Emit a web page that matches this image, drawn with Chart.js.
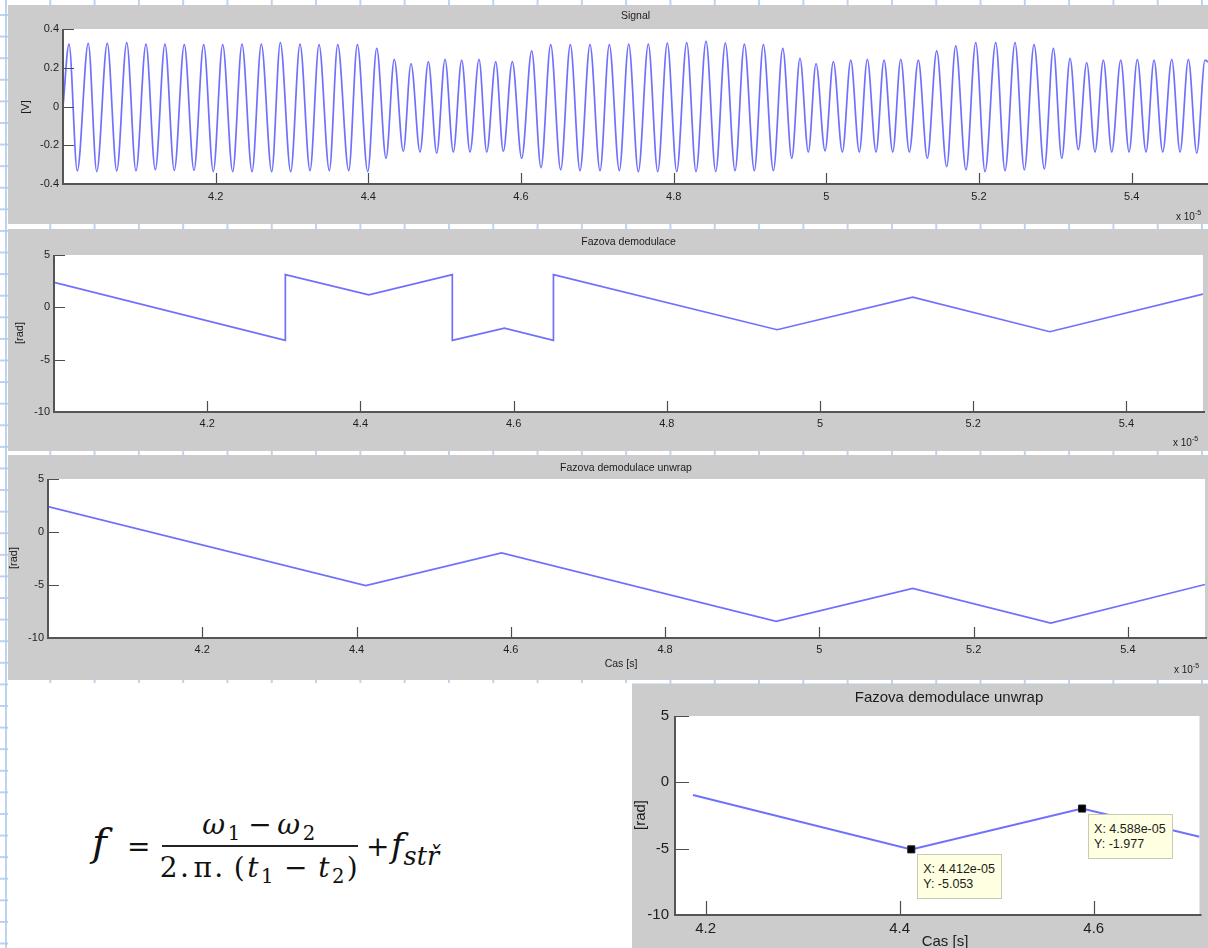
<!DOCTYPE html>
<html><head><meta charset="utf-8">
<script src="https://cdn.jsdelivr.net/npm/chart.js@4.4.1/dist/chart.umd.min.js"></script>
<style>
html,body{margin:0;padding:0;}
body{width:1208px;height:948px;position:relative;overflow:hidden;background-color:#fff;
 background-image:linear-gradient(to right, rgba(170,200,236,0.8) 1.5px, transparent 1.5px),
                  linear-gradient(to bottom, rgba(170,200,236,0.8) 1.5px, transparent 1.5px);
 background-size:44.3px 21.6px;background-position:5px 14px;}
canvas{position:absolute;}
.t{position:absolute;font-family:"Liberation Sans",Arial,sans-serif;color:#1c1c1c;white-space:nowrap;transform:translate(-50%,-50%);line-height:1;}
.r{transform:translate(-50%,-50%) rotate(-90deg);}
.ex{position:absolute;font-family:"Liberation Sans",Arial,sans-serif;color:#1c1c1c;font-size:10px;white-space:nowrap;line-height:1;}
.ex sup{font-size:7px;vertical-align:5px;line-height:0;}
.tip{position:absolute;background:#ffffe1;border:1px solid #c9c9b4;font-family:"Liberation Sans",Arial,sans-serif;font-size:12.5px;line-height:15px;color:#1c1c1c;padding:7px 6px 6px 5px;white-space:nowrap;}
#cover{position:absolute;left:8px;top:683px;width:624px;height:265px;background:#fff;}
.fm{position:absolute;font-family:"DejaVu Serif","Liberation Serif",serif;color:#111;white-space:nowrap;line-height:1;transform:translate(0,-50%);}
.fm sub{font-size:0.7em;vertical-align:-0.3em;line-height:0;}
.fc{transform:translate(-50%,-50%);letter-spacing:2.5px;}
</style></head>
<body>
<div id="cover"></div>
<script>
// ---------------- data ----------------
// Signal: extrema (time in units of 1e-5 s, voltage in V)
const sigStartT = 4.0, sigStartV = 0.0;
const sigEndT = 5.5, sigEndV = 0.23;
const sigPeakT = [4.0079,4.0331,4.0580,4.0835,4.1087,4.1336,4.1589,4.1843,4.2092,4.2345,4.2598,4.2847,4.3105,4.3354,4.3599,4.3856,4.4110,4.4340,4.4559,4.4786,
 4.5005,4.5223,4.5450,4.5669,4.5886,4.6140,4.6389,4.6646,4.6904,4.7157,4.7411,4.7668,4.7917,4.8171,4.8424,4.8677,4.8926,4.9175,4.9429,4.9655,
 4.9865,5.0092,5.0320,5.0537,5.0756,5.0975,5.1205,5.1446,5.1695,5.1957,5.2219,5.2472,5.2721,5.2974,5.3193,5.3411,5.3629,5.3857,5.4074,5.4293,5.4525,5.4743,5.4961];
const sigPeakV = [0.322,0.326,0.326,0.330,0.322,0.322,0.319,0.319,0.319,0.322,0.322,0.330,0.322,0.319,0.319,0.319,0.300,0.244,0.222,0.232,
 0.244,0.239,0.244,0.232,0.232,0.287,0.319,0.319,0.319,0.319,0.322,0.322,0.327,0.330,0.336,0.327,0.322,0.319,0.300,0.249,
 0.222,0.232,0.239,0.244,0.239,0.244,0.239,0.287,0.313,0.330,0.330,0.330,0.319,0.300,0.249,0.227,0.239,0.239,0.244,0.239,0.244,0.244,0.239];
const sigTroughT = [4.0187,4.0442,4.0704,4.0956,4.1209,4.1458,4.1716,4.1969,4.2223,4.2476,4.2734,4.2983,4.3236,4.3489,4.3743,4.3992,4.4232,4.4458,4.4677,
 4.4896,4.5113,4.5332,4.5551,4.5768,4.6009,4.6262,4.6520,4.6773,4.7035,4.7288,4.7537,4.7791,4.8040,4.8293,4.8551,4.8804,4.9057,4.9306,4.9547,4.9764,
 4.9983,5.0210,5.0432,5.0651,5.0870,5.1087,5.1323,5.1577,5.1830,5.2079,5.2341,5.2594,5.2856,5.3084,5.3301,5.3520,5.3739,5.3966,5.4188,5.4407,5.4634,5.4853];
const sigTroughV = [-0.332,-0.336,-0.332,-0.332,-0.327,-0.330,-0.330,-0.336,-0.336,-0.336,-0.336,-0.336,-0.331,-0.331,-0.331,-0.336,-0.267,-0.232,-0.235,
 -0.241,-0.235,-0.235,-0.235,-0.232,-0.267,-0.315,-0.327,-0.331,-0.331,-0.331,-0.336,-0.336,-0.336,-0.336,-0.336,-0.331,-0.331,-0.331,-0.267,-0.235,
 -0.229,-0.235,-0.235,-0.235,-0.235,-0.235,-0.267,-0.310,-0.327,-0.336,-0.331,-0.327,-0.322,-0.267,-0.223,-0.235,-0.235,-0.235,-0.235,-0.235,-0.235,-0.241];

// Wrapped phase (rad)
const wrapT     = [4.0, 4.302, 4.302, 4.411, 4.520, 4.520, 4.588, 4.652, 4.652, 4.944, 5.121, 5.300, 5.5];
const wrapPhase = [2.38, -3.15, 3.13, 1.20, 3.13, -3.15, -1.98, -3.15, 3.13, -2.14, 0.98, -2.33, 1.26];

// Unwrapped phase (rad)
const unwrapT     = [4.0, 4.412, 4.588, 4.944, 5.121, 5.300, 5.5];
const unwrapPhase = [2.39, -5.053, -1.977, -8.42, -5.32, -8.59, -4.95];

// Zoomed inset
const insetT     = [4.187, 4.412, 4.588, 4.709];
const insetPhase = [-0.95, -5.053, -1.977, -4.10];
const cursorT     = [4.412, 4.588];
const cursorPhase = [-5.053, -1.977];

// Ticks
const xTicks = [4.2, 4.4, 4.6, 4.8, 5, 5.2, 5.4];
const xTickLabels = ['4.2','4.4','4.6','4.8','5','5.2','5.4'];
const insetXTicks = [4.2, 4.4, 4.6];
const insetXTickLabels = ['4.2','4.4','4.6'];
const sigYTicks = [-0.4, -0.2, 0, 0.2, 0.4];
const sigYTickLabels = ['-0.4','-0.2','0','0.2','0.4'];
const radYTicks = [-10, -5, 0, 5];
const radYTickLabels = ['-10','-5','0','5'];

// --------------- helpers ---------------
const LINE = 'rgb(112,112,255)';
const FONT = '"Liberation Sans", Arial, sans-serif';

const axesPlugin = {
  id: 'mAxes',
  beforeDraw(chart, args, o) {
    const {ctx, chartArea: a, width, height} = chart;
    ctx.save();
    ctx.fillStyle = '#cccccc';
    ctx.fillRect(0, 0, width, height);
    ctx.fillStyle = '#ffffff';
    ctx.fillRect(a.left, a.top, a.right - a.left, a.bottom - a.top);
    ctx.restore();
  },
  afterDatasetsDraw(chart, args, o) {
    const {ctx, chartArea: a, scales} = chart;
    const x = scales.x, y = scales.y;
    ctx.save();
    ctx.strokeStyle = '#4d4d4d';
    ctx.lineWidth = 1.2;
    ctx.beginPath();
    x.ticks.forEach(t => {
      const px = Math.round(x.getPixelForValue(t.value)) + 0.5;
      ctx.moveTo(px, a.bottom); ctx.lineTo(px, a.bottom - o.tick);
    });
    y.ticks.forEach(t => {
      const py = Math.round(y.getPixelForValue(t.value)) + 0.5;
      ctx.moveTo(a.left, py); ctx.lineTo(a.left + o.tick, py);
    });
    ctx.stroke();
    ctx.lineWidth = 2;
    ctx.strokeStyle = '#555555';
    ctx.beginPath();
    ctx.moveTo(a.left, a.top); ctx.lineTo(a.left, a.bottom); ctx.lineTo(a.right + 2, a.bottom);
    ctx.stroke();
    ctx.restore();
  }
};

function makeChart(c) {
  const cv = document.createElement('canvas');
  cv.width = c.w; cv.height = c.h;
  cv.style.left = c.x + 'px'; cv.style.top = c.y + 'px';
  cv.style.width = c.w + 'px'; cv.style.height = c.h + 'px';
  document.body.appendChild(cv);
  return new Chart(cv, {
    type: 'line',
    data: {datasets: c.datasets},
    options: {
      responsive: false, animation: false, devicePixelRatio: 1, events: [],
      layout: {padding: {left: 0, top: c.padTop, right: c.padRight, bottom: 0}},
      plugins: {legend: {display: false}, tooltip: {enabled: false}, title: {display: false},
                mAxes: {tick: c.tick}},
      scales: {
        x: {type: 'linear', min: c.xmin, max: c.xmax,
            grid: {display: false, drawTicks: false, tickLength: 0}, border: {display: false},
            ticks: {font: {family: FONT, size: c.fs}, color: '#1e1e1e', padding: c.xpad,
                    autoSkip: false, maxRotation: 0, minRotation: 0,
                    callback: (v, i) => c.xl[i]},
            afterBuildTicks: s => { s.ticks = c.xt.map(v => ({value: v})); },
            afterFit: s => { s.height = c.xh; }},
        y: {type: 'linear', min: c.ymin, max: c.ymax,
            grid: {display: false, drawTicks: false, tickLength: 0}, border: {display: false},
            ticks: {font: {family: FONT, size: c.fs}, color: '#1e1e1e', padding: c.ypad,
                    autoSkip: false, callback: (v, i) => c.yl[i]},
            afterBuildTicks: s => { s.ticks = c.yt.map(v => ({value: v})); },
            afterFit: s => { s.width = c.yw; }}
      }
    },
    plugins: [axesPlugin]
  });
}

function lineSet(ts, vs, extra) {
  return Object.assign({
    data: ts.map((t, i) => ({x: t, y: vs[i]})),
    borderColor: LINE, borderWidth: 1.7, pointRadius: 0, tension: 0, fill: false
  }, extra || {});
}

// Signal points: start, extrema, end
const sigPts = [{x: sigStartT, y: sigStartV}]
  .concat(sigPeakT.map((t, i) => ({x: t, y: sigPeakV[i]})))
  .concat(sigTroughT.map((t, i) => ({x: t, y: sigTroughV[i]})))
  .concat([{x: sigEndT, y: sigEndV}])
  .sort((a, b) => a.x - b.x);

// Panel 1: Signal
makeChart({x: 8, y: 5, w: 1200, h: 219, padTop: 24, padRight: 0, yw: 55, xh: 40,
  xmin: 4.0, xmax: 5.5, ymin: -0.4, ymax: 0.4, xt: xTicks, xl: xTickLabels, yt: sigYTicks, yl: sigYTickLabels,
  fs: 11, xpad: 6, ypad: 4, tick: 11,
  datasets: [{data: sigPts, borderColor: LINE, borderWidth: 1.7, pointRadius: 0, cubicInterpolationMode: 'monotone', fill: false}]});

// Panel 2: Fazova demodulace
makeChart({x: 8, y: 229, w: 1200, h: 222, padTop: 26, padRight: 5, yw: 46, xh: 39,
  xmin: 4.0, xmax: 5.5, ymin: -10, ymax: 5, xt: xTicks, xl: xTickLabels, yt: radYTicks, yl: radYTickLabels,
  fs: 11, xpad: 5, ypad: 4, tick: 11,
  datasets: [lineSet(wrapT, wrapPhase)]});

// Panel 3: Fazova demodulace unwrap
makeChart({x: 8, y: 455, w: 1200, h: 225, padTop: 24, padRight: 3, yw: 40, xh: 42,
  xmin: 4.0, xmax: 5.5, ymin: -10, ymax: 5, xt: xTicks, xl: xTickLabels, yt: radYTicks, yl: radYTickLabels,
  fs: 11, xpad: 5, ypad: 4, tick: 11,
  datasets: [lineSet(unwrapT, unwrapPhase)]});

// Panel 4: zoomed inset with data cursors
const inset = makeChart({x: 632, y: 684, w: 576, h: 264, padTop: 32, padRight: 8.5, yw: 43, xh: 33,
  xmin: 4.1685, xmax: 4.709, ymin: -10, ymax: 5, xt: insetXTicks, xl: insetXTickLabels, yt: radYTicks, yl: radYTickLabels,
  fs: 15, xpad: 5, ypad: 6, tick: 14,
  datasets: [
    {data: cursorT.map((t, i) => ({x: t, y: cursorPhase[i]})), showLine: false, pointStyle: 'rect',
     pointRadius: 5, backgroundColor: '#000', borderColor: '#222', borderWidth: 1},
    lineSet(insetT, insetPhase, {borderWidth: 2})
  ]});

// --------------- text ---------------
function txt(html, x, y, size, cls, extraStyle) {
  const d = document.createElement('div');
  d.className = cls || 't';
  d.innerHTML = html;
  d.style.left = x + 'px'; d.style.top = y + 'px';
  if (size) d.style.fontSize = size + 'px';
  if (extraStyle) d.style.cssText += extraStyle;
  document.body.appendChild(d);
  return d;
}
txt('Signal', 635.5, 15, 10.5);
txt('[V]', 25, 107, 11, 't r');
txt('x 10<sup>-5</sup>', 1176, 212, 0, 'ex');

txt('Fazova demodulace', 628.5, 241, 10.5);
txt('[rad]', 19, 333, 11, 't r');
txt('x 10<sup>-5</sup>', 1173, 438, 0, 'ex');

txt('Fazova demodulace unwrap', 626, 467, 10.5);
txt('[rad]', 13, 558, 11, 't r');
txt('Cas [s]', 621, 663, 10.5);
txt('x 10<sup>-5</sup>', 1174, 665, 0, 'ex');

txt('Fazova demodulace unwrap', 949, 696, 15);
txt('[rad]', 639, 815, 15, 't r');
txt('Cas [s]', 945, 940, 15);

// data tips positioned from the inset scales
cursorT.forEach((t, i) => {
  const c = inset.canvas;
  const px = parseFloat(c.style.left) + inset.scales.x.getPixelForValue(t);
  const py = parseFloat(c.style.top) + inset.scales.y.getPixelForValue(cursorPhase[i]);
  const d = document.createElement('div');
  d.className = 'tip';
  d.innerHTML = 'X: ' + t.toFixed(3) + 'e-05<br>Y: ' + cursorPhase[i].toFixed(3);
  d.style.left = (px + 6) + 'px'; d.style.top = (py + 5) + 'px';
  document.body.appendChild(d);
});

// formula
txt('<i>f</i>', 92, 842, 40, 'fm');
txt('=', 127, 847, 28, 'fm');
txt('<i>ω</i><sub>1</sub>&#8239;−&#8239;<i>ω</i><sub>2</sub>', 260, 825, 28, 'fm fc');
const bar = document.createElement('div');
bar.style.cssText = 'position:absolute;left:162px;top:845px;width:196px;height:1.6px;background:#222;';
document.body.appendChild(bar);
txt('2.<span style="margin-left:2px">π</span>.&thinsp;(<i>t</i><sub>1</sub>&#8239;−&#8239;<i>t</i><sub>2</sub>)', 260, 868, 28, 'fm fc');
txt('+', 366, 847, 28, 'fm');
txt('<i>f</i><sub style="font-size:0.75em"><i>stř</i></sub>', 391, 845, 34, 'fm');
</script>
</body></html>
